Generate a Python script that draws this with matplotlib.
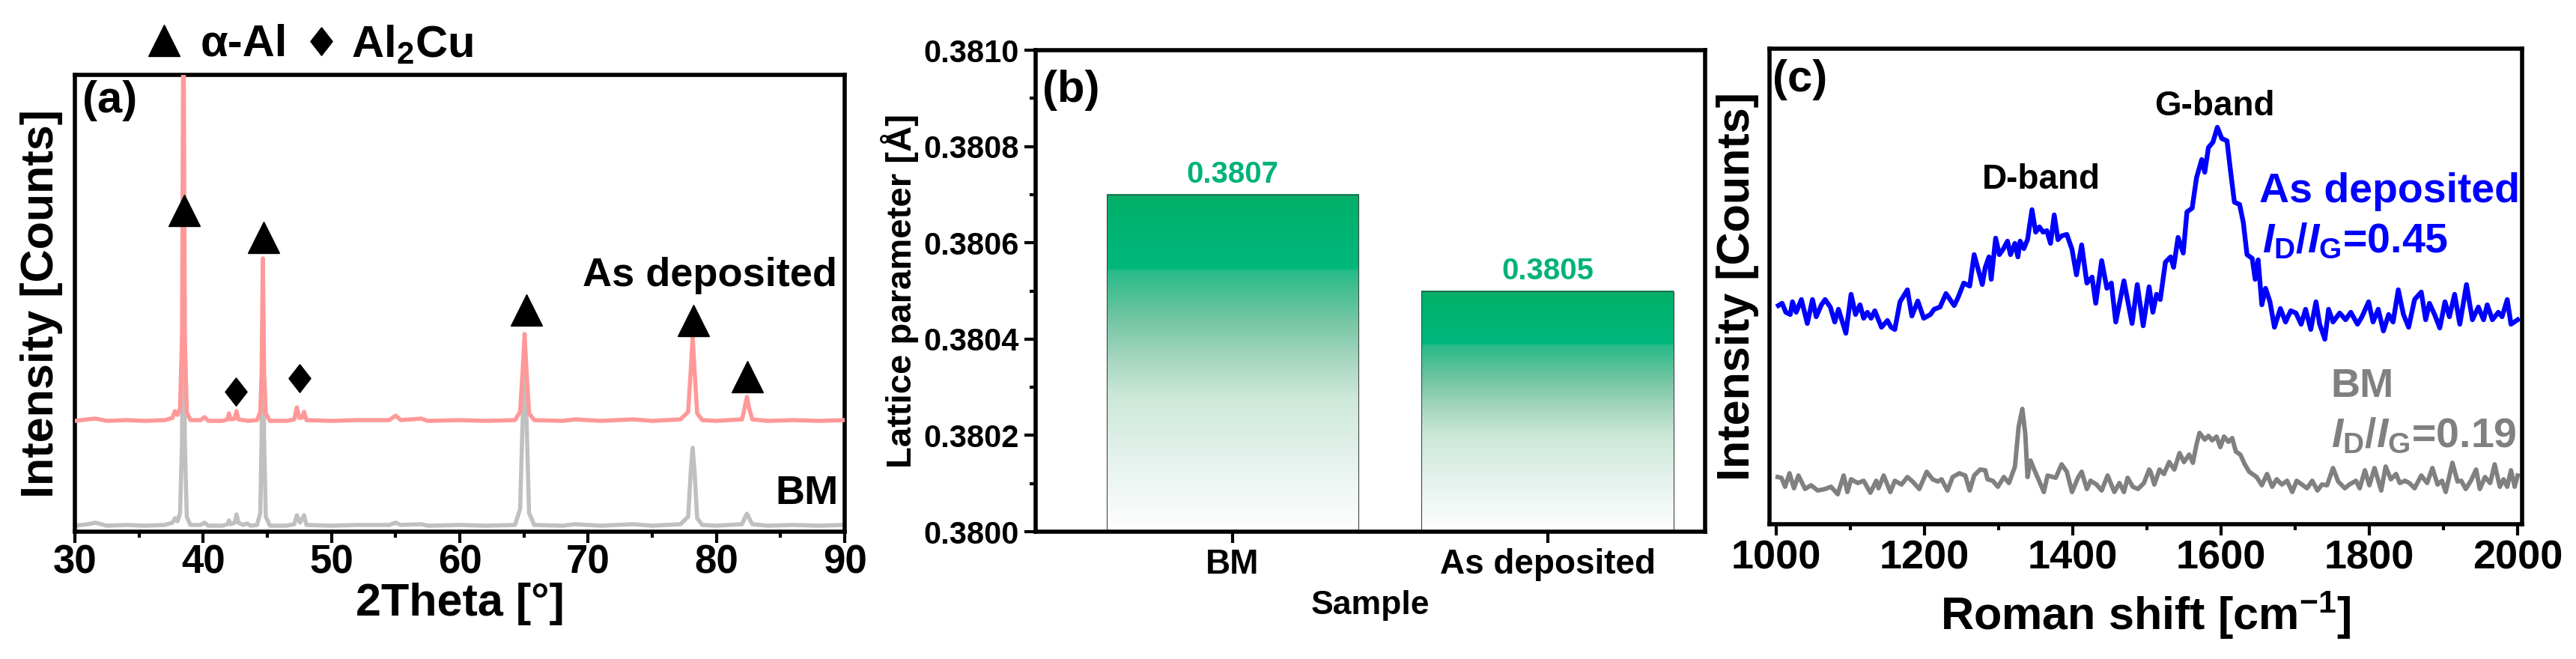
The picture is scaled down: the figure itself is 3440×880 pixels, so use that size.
import numpy as np
import matplotlib
matplotlib.use('Agg')
import matplotlib.pyplot as plt
from matplotlib.colors import LinearSegmentedColormap
from matplotlib.ticker import MultipleLocator, FormatStrFormatter

plt.rcParams['font.family'] = ['Liberation Sans', 'DejaVu Sans']
plt.rcParams['font.weight'] = 'bold'
plt.rcParams['axes.labelweight'] = 'bold'
plt.rcParams['mathtext.fontset'] = 'custom'
plt.rcParams['mathtext.rm'] = 'Liberation Sans:bold'
plt.rcParams['mathtext.it'] = 'Liberation Sans:italic:bold'
plt.rcParams['mathtext.bf'] = 'Liberation Sans:bold'

# ---------------- (a) XRD ----------------
xrd_dep_x = [30.0, 31.0, 31.6, 32.5, 34.0, 35.5, 37.0, 37.6, 37.8, 38.0, 38.2, 38.35, 38.46, 38.57, 38.72,
             39.0, 39.8, 40.1, 40.4, 41.5, 41.9, 42.0, 42.15, 42.45, 42.6, 42.75, 43.5, 44.2, 44.45, 44.55,
             44.65, 44.75, 44.88, 45.2, 46.5, 47.1, 47.3, 47.5, 47.7, 47.86, 48.05, 50.0, 52.0, 54.5, 55.0,
             55.4, 57.0, 57.5, 60.0, 62.0, 64.3, 64.7, 64.9, 65.05, 65.2, 65.4, 65.8, 68.0, 69.0, 71.0,
             73.5, 75.0, 77.2, 77.8, 78.0, 78.15, 78.3, 78.5, 78.9, 80.0, 82.0, 82.2, 82.38, 82.55, 82.8,
             84.0, 86.0, 88.0, 90.0]
xrd_dep_y = [148, 150, 151, 148, 149, 148, 149, 152, 161, 156, 165, 260, 720, 260, 160,
             149, 149, 153, 148, 148, 150, 158, 150, 151, 161, 150, 148, 149, 160, 210,
             365, 210, 158, 148, 148, 150, 166, 152, 152, 160, 149, 148, 149, 149, 155,
             149, 151, 148, 149, 148, 149, 160, 215, 264, 215, 158, 149, 148, 150, 148,
             150, 148, 150, 160, 215, 261, 215, 158, 149, 148, 150, 165, 180, 165, 150,
             148, 149, 148, 149]

xrd_bm_x = [30.0, 31.0, 31.6, 32.5, 34.0, 35.5, 37.0, 37.6, 37.8, 38.0, 38.2, 38.35, 38.46, 38.57, 38.72,
            39.0, 39.8, 40.1, 40.4, 41.5, 41.9, 42.0, 42.15, 42.45, 42.6, 42.75, 43.1, 43.4, 43.7, 44.2,
            44.45, 44.55, 44.65, 44.75, 44.88, 45.2, 46.5, 47.1, 47.3, 47.55, 47.86, 48.05, 50.0, 52.0,
            54.5, 55.0, 55.4, 57.0, 57.5, 60.0, 62.0, 64.3, 64.7, 64.9, 65.05, 65.2, 65.4, 65.8, 68.0,
            69.0, 71.0, 73.5, 75.0, 77.2, 77.8, 78.0, 78.15, 78.3, 78.5, 78.9, 80.0, 82.0, 82.2, 82.38,
            82.55, 82.8, 84.0, 86.0, 88.0, 90.0]
xrd_bm_y = [8, 10, 12, 8, 9, 8, 9, 12, 18, 14, 25, 120, 420, 120, 20,
            9, 9, 12, 8, 8, 10, 15, 10, 12, 23, 12, 9, 11, 8, 9,
            25, 120, 300, 120, 20, 8, 8, 10, 22, 12, 22, 9, 8, 9,
            9, 12, 9, 10, 8, 9, 8, 9, 30, 150, 220, 150, 25, 9, 8,
            10, 8, 10, 8, 10, 20, 80, 112, 80, 18, 9, 8, 10, 18, 24,
            18, 10, 8, 9, 8, 9]

alpha_al_x = [38.5, 44.7, 65.2, 78.2, 82.4]
alpha_al_y = [429, 393, 296, 282, 207]
al2cu_x = [42.55, 47.5]
al2cu_y = [187, 205]

# ---------------- (b) lattice parameter ----------------
samples = ['BM', 'As deposited']
lattice = [0.3807, 0.3805]

# ---------------- (c) Raman ----------------
raman_dep_x = [1003, 1008, 1013, 1019, 1022, 1027, 1034, 1042, 1049, 1054,
               1061, 1066, 1073, 1079, 1084, 1094, 1101, 1107, 1113, 1118,
               1123, 1128, 1133, 1142, 1150, 1155, 1160, 1167, 1177, 1183,
               1191, 1199, 1208, 1213, 1221, 1229, 1240, 1245, 1253, 1261,
               1267, 1278, 1282, 1287, 1290, 1296, 1301, 1306, 1312, 1316,
               1322, 1326, 1329, 1334, 1339, 1345, 1350, 1355, 1360, 1365,
               1370, 1375, 1380, 1385, 1392, 1399, 1405, 1412, 1419, 1426,
               1431, 1439, 1446, 1452, 1458, 1469, 1480, 1487, 1495,
               1503, 1508, 1513, 1518, 1525, 1532, 1536, 1542, 1549, 1554,
               1561, 1567, 1574, 1578, 1583, 1589, 1595, 1601, 1608, 1613,
               1618, 1625, 1630, 1635, 1642, 1646, 1650, 1655, 1660, 1666,
               1672, 1680, 1687, 1694, 1701, 1708, 1714, 1721, 1728, 1733,
               1740, 1745, 1751, 1760, 1768, 1775, 1784, 1790, 1799, 1805,
               1812, 1819, 1826, 1832, 1839, 1846, 1853, 1861, 1870, 1876,
               1881, 1888, 1895, 1902, 1908, 1915, 1922, 1931, 1939, 1947,
               1954, 1959, 1966, 1974, 1979, 1986, 1991, 2000]
raman_dep_y = [292, 295, 283, 280, 297, 283, 300, 268, 300, 277,
               293, 300, 290, 270, 287, 255, 307, 280, 293, 275,
               283, 275, 285, 263, 272, 263, 260, 297, 313, 278,
               298, 275, 280, 287, 290, 308, 292, 302, 322, 318,
               360, 320, 343, 357, 327, 382, 360, 367, 378, 360,
               375, 357, 378, 368, 380, 420, 390, 397, 390, 392,
               375, 413, 380, 385, 387, 367, 333, 373, 322, 330,
               295, 352, 315, 322, 270, 325, 268, 320, 265,
               317, 283, 307, 300, 350, 357, 343, 383, 362, 417,
               422, 463, 487, 470, 503, 510, 530, 515, 512, 470,
               430, 427, 403, 360, 355, 327, 353, 293, 315, 297,
               263, 288, 270, 285, 282, 267, 287, 260, 297, 267,
               247, 287, 270, 282, 273, 283, 267, 277, 297, 270,
               287, 258, 280, 270, 313, 280, 263, 300, 310, 273,
               295, 280, 262, 297, 277, 307, 267, 320, 273, 290,
               273, 293, 273, 283, 277, 300, 267, 273]

raman_bm_x = [1002, 1007, 1012, 1018, 1024, 1030, 1039, 1047, 1056, 1066,
              1074, 1083, 1091, 1096, 1101, 1110, 1118, 1127, 1135, 1138,
              1145, 1154, 1160, 1169, 1177, 1184, 1193, 1203, 1211, 1218,
              1223, 1231, 1238, 1247, 1255, 1261, 1267, 1275, 1282, 1285,
              1292, 1299, 1307, 1314, 1322, 1327, 1332, 1336, 1339, 1343,
              1348, 1355, 1361, 1366, 1377, 1385, 1392, 1399, 1407, 1412,
              1419, 1424, 1432, 1439, 1447, 1456, 1463, 1469, 1474, 1481,
              1488, 1496, 1503,
              1505, 1510, 1517, 1523, 1530, 1537, 1544, 1550, 1557, 1562,
              1567, 1571, 1578, 1583, 1588, 1594, 1599, 1604, 1610, 1615,
              1620, 1626, 1632, 1638, 1648, 1655, 1662, 1669, 1675, 1682,
              1689, 1696, 1702, 1709, 1716, 1723, 1730, 1736, 1743, 1751,
              1758, 1767, 1773, 1782, 1787, 1794, 1800, 1807, 1816, 1822,
              1829, 1836, 1841, 1848, 1854, 1861, 1870, 1878, 1885, 1892,
              1898, 1903, 1912, 1919, 1924, 1930, 1937, 1944, 1949, 1956,
              1963, 1969, 1976, 1981, 1986, 1991, 1996, 2000]
raman_bm_y = [63, 62, 50, 68, 48, 65, 47, 52, 45, 47,
              50, 40, 65, 43, 60, 55, 58, 42, 58, 48,
              65, 43, 58, 53, 63, 57, 47, 70, 60, 57,
              60, 45, 63, 68, 65, 45, 65, 73, 72, 60,
              58, 50, 63, 55, 77, 130, 154, 120, 63, 85,
              73, 57, 43, 65, 62, 80, 70, 43, 62, 70,
              47, 58, 53, 45, 65, 43, 55, 43, 62, 50,
              47, 55, 73,
              70, 53, 73, 67, 83, 73, 95, 83, 93, 82,
              107, 122, 113, 118, 112, 117, 103, 117, 110, 115,
              97, 93, 80, 70, 63, 52, 67, 50, 60, 53,
              58, 43, 58, 53, 48, 58, 45, 53, 52, 75,
              57, 48, 53, 58, 48, 72, 52, 75, 45, 77,
              60, 67, 55, 58, 55, 48, 65, 55, 75, 53,
              58, 43, 82, 57, 58, 47, 58, 73, 47, 63,
              55, 80, 50, 60, 50, 72, 50, 65]

PINK = '#FF9999'
LGRAY = '#C0C0C0'
GREEN = '#00B27A'
DGRAY = '#808080'


def style_axes(ax):
    for sp in ax.spines.values():
        sp.set_linewidth(4)
    ax.tick_params(which='major', direction='out', length=11, width=3)
    ax.tick_params(which='minor', direction='out', length=6, width=3)


def bold_ticks(ax):
    for lab in ax.get_xticklabels() + ax.get_yticklabels():
        lab.set_fontweight('bold')


fig = plt.figure(figsize=(34.4, 8.8), dpi=100)

# ---------------- panel (a) ----------------
ax1 = fig.add_axes([0.02907, 0.19318, 0.29884, 0.69318])
ax1.plot(xrd_bm_x, xrd_bm_y, color=LGRAY, lw=4, zorder=2)
ax1.plot(xrd_dep_x, xrd_dep_y, color=PINK, lw=4, zorder=3)
ax1.plot(alpha_al_x, alpha_al_y, ls='none', marker='^', ms=30, color='black', zorder=4)
diamond = [(0, 1), (0.78, 0), (0, -1), (-0.78, 0), (0, 1)]
ax1.plot(al2cu_x, al2cu_y, ls='none', marker=diamond, ms=27, color='black', zorder=4)
ax1.set_xlim(30, 90)
ax1.set_ylim(0, 610)
ax1.set_yticks([])
ax1.xaxis.set_major_locator(MultipleLocator(10))
ax1.xaxis.set_minor_locator(MultipleLocator(5))
style_axes(ax1)
ax1.tick_params(axis='x', labelsize=38, pad=1)
bold_ticks(ax1)
ax1.set_xlabel('2Theta [°]', fontsize=44)
ax1.set_ylabel('Intensity [Counts]', fontsize=44)
ax1.xaxis.set_label_coords(0.5, -0.111)
ax1.yaxis.set_label_coords(-0.0156, 0.5)
ax1.text(0.01, 0.988, '(a)', transform=ax1.transAxes, fontsize=43, va='top', ha='left')
ax1.text(89.43, 328, 'As deposited', fontsize=39, ha='right', va='baseline')
ax1.text(89.5, 37, 'BM', fontsize=39, ha='right', va='baseline')
# header legend
ax1.plot([0.1158], [1.075], transform=ax1.transAxes, marker='^', ms=30, color='black', clip_on=False)
ax1.text(0.1634, 1.041, 'α-Al', transform=ax1.transAxes, fontsize=43, va='baseline', ha='left')
ax1.plot([0.32], [1.074], transform=ax1.transAxes, marker=diamond, ms=27, color='black', clip_on=False)
ax1.text(0.359, 1.039, r'Al$_{\mathrm{2}}$Cu', transform=ax1.transAxes, fontsize=43,
         va='baseline', ha='left')

# ---------------- panel (b) ----------------
ax2 = fig.add_axes([0.40203, 0.19318, 0.25988, 0.73068])
grad_cmap = LinearSegmentedColormap.from_list('bar_grad', [
    (0.0, (1.0, 1.0, 1.0)),
    (0.08, (0.96, 0.98, 0.97)),
    (0.21, (0.90, 0.95, 0.93)),
    (0.40, (0.80, 0.91, 0.85)),
    (0.51, (0.65, 0.84, 0.75)),
    (0.62, (0.47, 0.78, 0.65)),
    (0.775, (0.15, 0.73, 0.53)),
    (0.78, (0.0, 0.72, 0.49)),
    (1.0, (0.0, 0.69, 0.41)),
])
grad = np.linspace(0, 1, 256).reshape(-1, 1)
x_pos = np.arange(len(samples))
bar_w = 0.8
for xc, val in zip(x_pos, lattice):
    ax2.imshow(grad, cmap=grad_cmap, origin='lower', aspect='auto', interpolation='bilinear',
               extent=(xc - bar_w / 2, xc + bar_w / 2, 0.38, val), zorder=1)
    ax2.bar(xc, val - 0.38, bottom=0.38, width=bar_w, facecolor='none', edgecolor='#444444',
            lw=0.8, zorder=2)
    ax2.text(xc, val + 0.000012, f'{val:.4f}', color=GREEN, fontsize=29, ha='center', va='bottom')
ax2.set_xlim(-0.625, 1.5)
ax2.set_ylim(0.38, 0.381)
ax2.set_xticks(x_pos)
ax2.set_xticklabels(samples)
ax2.yaxis.set_major_locator(MultipleLocator(0.0002))
ax2.yaxis.set_minor_locator(MultipleLocator(0.0001))
ax2.yaxis.set_major_formatter(FormatStrFormatter('%.4f'))
style_axes(ax2)
ax2.tick_params(axis='x', labelsize=33, pad=5)
ax2.tick_params(axis='y', labelsize=30, pad=5)
bold_ticks(ax2)
ax2.set_xlabel('Sample', fontsize=32)
ax2.set_ylabel('Lattice parameter [Å]', fontsize=34)
ax2.xaxis.set_label_coords(0.5, -0.121)
ax2.yaxis.set_label_coords(-0.1745, 0.5)
ax2.text(0.01, 0.96, '(b)', transform=ax2.transAxes, fontsize=43, va='top', ha='left')

# ---------------- panel (c) ----------------
ax3 = fig.add_axes([0.68692, 0.20455, 0.29215, 0.72159])
ax3.plot(raman_bm_x, raman_bm_y, color=DGRAY, lw=4.3)
ax3.plot(raman_dep_x, raman_dep_y, color='blue', lw=4.6)
ax3.set_xlim(991, 2006)
ax3.set_ylim(0, 635)
ax3.set_yticks([])
ax3.xaxis.set_major_locator(MultipleLocator(200))
ax3.xaxis.set_minor_locator(MultipleLocator(100))
style_axes(ax3)
ax3.tick_params(axis='x', labelsize=39, pad=4)
bold_ticks(ax3)
ax3.set_xlabel(r'Roman shift [cm$^{\mathrm{-1}}$]', fontsize=44)
ax3.set_ylabel('Intensity [Counts]', fontsize=44)
ax3.xaxis.set_label_coords(0.5, -0.137)
ax3.yaxis.set_label_coords(-0.0139, 0.5)
ax3.text(0.004, 0.978, '(c)', transform=ax3.transAxes, fontsize=43, va='top', ha='left')
ax3.text(1591, 546, 'G-band', fontsize=33, ha='center', va='baseline')
ax3.text(1357, 448, 'D-band', fontsize=33, ha='center', va='baseline')
ax3.text(2003, 430, 'As deposited', fontsize=40, color='blue', ha='right', va='baseline')
ax3.text(1656, 363, r'$\mathit{I}_{\mathrm{D}}/\mathit{I}_{\mathrm{G}}$=0.45', fontsize=40,
         color='blue', ha='left', va='baseline')
ax3.text(1748, 170, 'BM', fontsize=39, color=DGRAY, ha='left', va='baseline')
ax3.text(1748, 103, r'$\mathit{I}_{\mathrm{D}}/\mathit{I}_{\mathrm{G}}$=0.19', fontsize=40,
         color=DGRAY, ha='left', va='baseline')

fig.savefig('out.png', dpi=100)
plt.close(fig)
